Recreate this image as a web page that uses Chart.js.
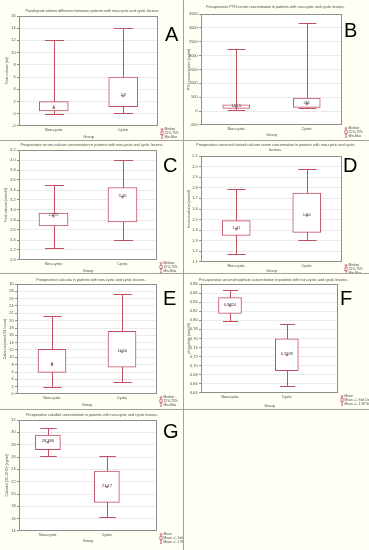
<!DOCTYPE html>
<html>
<head>
<meta charset="utf-8">
<script src="https://cdn.jsdelivr.net/npm/chart.js@4.4.1/dist/chart.umd.min.js"></script>
<style>
  body { margin: 0; background: #fff; }
  #fig { position: relative; width: 369px; height: 550px; background: #fffff3; overflow: hidden; }
  #fig canvas { position: absolute; }
  .sep { position: absolute; background: #a4a49c; }
</style>
</head>
<body>
<div id="fig">
  <div class="sep" style="left:183px;top:0;width:1px;height:550px"></div>
  <div class="sep" style="left:0;top:140px;width:369px;height:1px"></div>
  <div class="sep" style="left:0;top:273px;width:369px;height:1px"></div>
  <div class="sep" style="left:0;top:409px;width:369px;height:1px"></div>
</div>
<script>
// ============================================================
// Cystic vs non-cystic parathyroid lesions: 7 box plots
// ============================================================
const groups = ["Non-cystic", "Cystic"];

// A: parathyroid volume [ml]  (min, q1, median, q3, max)
const volumeTicks = [-2, 16, 2];
const volumeMin = [0, 0.2];
const volumeQ1 = [0.45, 1.15];
const volumeMedian = [1, 2.9];
const volumeQ3 = [2, 6];
const volumeMax = [12, 14];

// B: PTH [pg/ml]
const pthTicks = [-500, 3500, 500];
const pthMin = [50, 110];
const pthQ1 = [97, 133];
const pthMedian = [140.5, 261];
const pthQ3 = [230, 473];
const pthMax = [2240, 3190];

// C: total calcium [mmol/l]
const calciumTicks = [2.0, 4.2, 0.2];
const calciumMin = [2.24, 2.39];
const calciumQ1 = [2.68, 2.76];
const calciumMedian = [2.875, 3.26];
const calciumQ3 = [2.94, 3.45];
const calciumMax = [3.5, 4.0];

// D: ionized calcium [mmol/l]
const ionizedTicks = [1.1, 2.1, 0.1];
const ionizedMin = [1.18, 1.31];
const ionizedQ1 = [1.35, 1.38];
const ionizedMedian = [1.41, 1.54];
const ionizedQ3 = [1.49, 1.75];
const ionizedMax = [1.79, 1.98];

// E: calciuria [mmol/24 hours]
const calciuriaTicks = [0, 30, 2];
const calciuriaMin = [2.0, 3.2];
const calciuriaQ1 = [5.9, 7.3];
const calciuriaMedian = [8, 11.56];
const calciuriaQ3 = [12.2, 17.1];
const calciuriaMax = [21.2, 27.3];

// F: phosphate [mmol/l]  (mean -1.96SD, mean -SD, mean, mean +SD, mean +1.96SD)
const phosphateTicks = [0.64, 0.88, 0.02];
const phosphateLow = [0.798, 0.655];
const phosphateSdLo = [0.815, 0.689];
const phosphateMean = [0.8324, 0.7239];
const phosphateSdHi = [0.850, 0.759];
const phosphateHigh = [0.867, 0.7925];

// G: calcidiol (25-OHD) [ng/ml]
const calcidiolTicks = [14, 32, 2];
const calcidiolLow = [26.1, 16.2];
const calcidiolSdLo = [27.2, 18.65];
const calcidiolMean = [28.386, 21.17];
const calcidiolSdHi = [29.56, 23.7];
const calcidiolHigh = [30.68, 26.2];

const RED = "#c24f62";
const INK = "#4b4b4b";
const FONT = '"Liberation Sans", Arial, sans-serif';
const BOX_LEGEND = ["Median", "25%-75%", "Min-Max"];
const MEAN_LEGEND = ["Mean", "Mean +/- Std. Dev.", "Mean +/- 1.96*Std. Dev."];

const panels = [
  { letter: "A", cell: [0, 0, 183, 140], plot: [19, 16, 158, 126], groupY: 137,
    title: ["Parathyroid volume difference between patients with non-cystic and cystic lesions."], titleY: [11],
    yTitle: "Total volume [ml]", yTitleX: 7, ticks: volumeTicks, dec: 0,
    low: volumeMin, lo: volumeQ1, mid: volumeMedian, hi: volumeQ3, high: volumeMax,
    legend: BOX_LEGEND, letterAt: [165, 26], xRange: [-0.5, 1.5], boxW: 29 },
  { letter: "B", cell: [184, 0, 185, 140], plot: [17, 14, 158, 125], groupY: 135,
    title: ["Pre-operative PTH serum concentration in patients with non-cystic and cystic lesions."], titleY: [7],
    yTitle: "PTH concentration [pg/ml]", yTitleX: 5, ticks: pthTicks, dec: 0,
    low: pthMin, lo: pthQ1, mid: pthMedian, hi: pthQ3, high: pthMax,
    legend: BOX_LEGEND, letterAt: [160, 22], xRange: [-0.5, 1.5], boxW: 27 },
  { letter: "C", cell: [0, 141, 183, 132], plot: [19, 9, 157, 119], groupY: 130,
    title: ["Preoperative serum calcium concentration in patients with non-cystic and cystic lesions."], titleY: [4],
    yTitle: "Total calcium [mmol/l]", yTitleX: 6, ticks: calciumTicks, dec: 1,
    low: calciumMin, lo: calciumQ1, mid: calciumMedian, hi: calciumQ3, high: calciumMax,
    legend: BOX_LEGEND, letterAt: [163, 16], xRange: [-0.5, 1.5], boxW: 29 },
  { letter: "D", cell: [184, 141, 185, 132], plot: [17, 15, 158, 121], groupY: 130,
    title: ["Preoperative corrected ionized calcium serum concentration in patients with non-cystic and cystic", "lesions."], titleY: [4, 9],
    yTitle: "Ionized calcium [mmol/l]", yTitleX: 5, ticks: ionizedTicks, dec: 1,
    low: ionizedMin, lo: ionizedQ1, mid: ionizedMedian, hi: ionizedQ3, high: ionizedMax,
    legend: BOX_LEGEND, letterAt: [159, 16], xRange: [-0.5, 1.5], boxW: 28 },
  { letter: "E", cell: [0, 274, 183, 135], plot: [17, 10, 157, 120], groupY: 131,
    title: ["Preoperative calciuria in patients with non-cystic and cystic lesions."], titleY: [6],
    yTitle: "Calciuria [mmol/24 hours]", yTitleX: 5, ticks: calciuriaTicks, dec: 0,
    low: calciuriaMin, lo: calciuriaQ1, mid: calciuriaMedian, hi: calciuriaQ3, high: calciuriaMax,
    legend: BOX_LEGEND, letterAt: [163, 16], xRange: [-0.5, 1.5], boxW: 28 },
  { letter: "F", cell: [184, 274, 185, 135], plot: [17, 10, 154, 119], groupY: 131.5,
    title: ["Pre-operative serum phosphate concentration in patients with non-cystic and cystic lesions."], titleY: [6],
    yTitle: "phosphate [mmol/l]", yTitleX: 5, ticks: phosphateTicks, dec: 2,
    low: phosphateLow, lo: phosphateSdLo, mid: phosphateMean, hi: phosphateSdHi, high: phosphateHigh,
    legend: MEAN_LEGEND, letterAt: [156, 16], xRange: [-0.51, 1.9], boxW: 23 },
  { letter: "G", cell: [0, 410, 183, 140], plot: [19, 10, 157, 121], groupY: 131,
    title: ["Preoperative calcidiol concentration in patients with non-cystic and cystic lesions."], titleY: [5],
    yTitle: "Calcidiol (25-OHD) [ng/ml]", yTitleX: 7, ticks: calcidiolTicks, dec: 0,
    low: calcidiolLow, lo: calcidiolSdLo, mid: calcidiolMean, hi: calcidiolSdHi, high: calcidiolHigh,
    legend: MEAN_LEGEND, letterAt: [163, 13], xRange: [-0.49, 1.85], boxW: 25 },
];

function boxPlugin(p) {
  return {
    id: "box" + p.letter,
    beforeDraw(chart) {
      const { ctx, chartArea: a } = chart;
      ctx.save();
      ctx.fillStyle = "#fff";
      ctx.fillRect(a.left, a.top, a.right - a.left, a.bottom - a.top);
      ctx.restore();
    },
    beforeDatasetsDraw(chart) {
      // whiskers under the boxes
      const { ctx, scales: { x, y } } = chart;
      ctx.save();
      ctx.strokeStyle = RED;
      ctx.lineWidth = 1;
      p.low.forEach((v, i) => {
        const cx = Math.round(x.getPixelForValue(i)) + 0.5;
        const y0 = Math.round(y.getPixelForValue(v)) + 0.5;
        const y1 = Math.round(y.getPixelForValue(p.high[i])) + 0.5;
        const half = p.boxW * 0.33;
        ctx.beginPath();
        ctx.moveTo(cx, y0); ctx.lineTo(cx, y1);
        ctx.moveTo(cx - half, y0); ctx.lineTo(cx + half, y0);
        ctx.moveTo(cx - half, y1); ctx.lineTo(cx + half, y1);
        ctx.stroke();
      });
      ctx.restore();
    },
    afterDraw(chart) {
      const { ctx, chartArea: a, scales: { x, y } } = chart;
      ctx.save();
      // plot frame
      ctx.strokeStyle = "#8e8e8e";
      ctx.lineWidth = 1;
      ctx.strokeRect(Math.round(a.left) + 0.5, Math.round(a.top) + 0.5,
        Math.round(a.right - a.left) - 1, Math.round(a.bottom - a.top) - 1);

      // median / mean value labels
      ctx.fillStyle = "#333";
      ctx.font = `4px ${FONT}`;
      ctx.textAlign = "center";
      ctx.textBaseline = "alphabetic";
      p.mid.forEach((v, i) => {
        ctx.fillText(String(v), x.getPixelForValue(i), y.getPixelForValue(v) + 0.2);
      });

      // title
      ctx.fillStyle = INK;
      ctx.font = `3.7px ${FONT}`;
      ctx.textBaseline = "middle";
      const tx = (a.left + a.right) / 2 + 4;
      p.title.forEach((t, k) => ctx.fillText(t, tx, p.titleY[k]));

      // panel letter
      ctx.fillStyle = "#000";
      ctx.font = `20px ${FONT}`;
      ctx.textAlign = "left";
      ctx.textBaseline = "alphabetic";
      ctx.fillText(p.letter, p.letterAt[0], p.letterAt[1] + 14.5);

      // legend
      const lx = a.right + 4;
      ctx.font = `3.3px ${FONT}`;
      ctx.textBaseline = "middle";
      ctx.strokeStyle = RED;
      ctx.lineWidth = 0.7;
      p.legend.forEach((t, k) => {
        const ly = a.bottom + 3.5 + k * 3.6;
        ctx.beginPath();
        if (k === 0) {
          ctx.rect(lx - 0.8, ly - 0.8, 1.6, 1.6);
        } else if (k === 1) {
          ctx.rect(lx - 1.2, ly - 1.5, 2.4, 3);
        } else {
          ctx.moveTo(lx, ly - 1.6); ctx.lineTo(lx, ly + 1.6);
          ctx.moveTo(lx - 1, ly - 1.6); ctx.lineTo(lx + 1, ly - 1.6);
          ctx.moveTo(lx - 1, ly + 1.6); ctx.lineTo(lx + 1, ly + 1.6);
        }
        ctx.stroke();
        ctx.fillStyle = INK;
        ctx.fillText(t, lx + 2.5, ly);
      });
      ctx.restore();
    },
  };
}

const fig = document.getElementById("fig");

panels.forEach(p => {
  const [cx, cy, cw, ch] = p.cell;
  const [pl, pt, pr, pb] = p.plot;
  const canvas = document.createElement("canvas");
  canvas.width = cw;
  canvas.height = ch;
  canvas.style.left = cx + "px";
  canvas.style.top = cy + "px";
  fig.appendChild(canvas);

  const axisFont = 3.8;
  const yTitleFont = 3.6;

  new Chart(canvas, {
    type: "bar",
    data: {
      datasets: [
        {
          type: "line",
          order: 0,
          data: p.mid.map((v, i) => ({ x: i, y: v })),
          showLine: false,
          pointStyle: "rect",
          pointRadius: 1.1,
          pointBorderWidth: 0.8,
          borderColor: RED,
          backgroundColor: "rgba(255,255,255,0)",
        },
        {
          type: "bar",
          order: 1,
          data: p.lo.map((v, i) => ({ x: i, y: [v, p.hi[i]] })),
          backgroundColor: "#fff",
          borderColor: RED,
          borderWidth: 1,
          borderSkipped: false,
          barThickness: p.boxW,
        },
      ],
    },
    options: {
      responsive: false,
      devicePixelRatio: 1,
      animation: false,
      events: [],
      layout: { padding: { top: pt, right: cw - pr, left: 0, bottom: ch - p.groupY - 2.3 } },
      plugins: { legend: { display: false }, tooltip: { enabled: false } },
      scales: {
        x: {
          type: "linear",
          offset: false,
          min: p.xRange[0],
          max: p.xRange[1],
          afterBuildTicks: s => { s.ticks = [{ value: 0 }, { value: 1 }]; },
          afterFit: s => { s.height = p.groupY + 2.3 - pb; },
          grid: { display: false, drawTicks: false, tickLength: 0 },
          border: { display: false },
          ticks: {
            padding: 2,
            maxRotation: 0,
            color: INK,
            font: { family: FONT, size: axisFont },
            callback: v => groups[v],
          },
          title: { display: true, text: "Group", color: INK, font: { family: FONT, size: axisFont }, padding: 0 },
        },
        y: {
          min: p.ticks[0],
          max: p.ticks[1],
          afterFit: s => { s.width = pl; },
          grid: { color: "#ebebeb", tickColor: "#8e8e8e", tickLength: 2 },
          border: { display: false },
          ticks: {
            stepSize: p.ticks[2],
            autoSkip: false,
            maxTicksLimit: 100,
            padding: 1.5,
            color: INK,
            font: { family: FONT, size: axisFont },
            callback: v => Number(v).toFixed(p.dec),
          },
          title: {
            display: true,
            text: p.yTitle,
            color: INK,
            font: { family: FONT, size: yTitleFont },
            padding: { top: p.yTitleX - yTitleFont * 0.6, bottom: 0 },
          },
        },
      },
    },
    plugins: [boxPlugin(p)],
  });
});
</script>
</body>
</html>
